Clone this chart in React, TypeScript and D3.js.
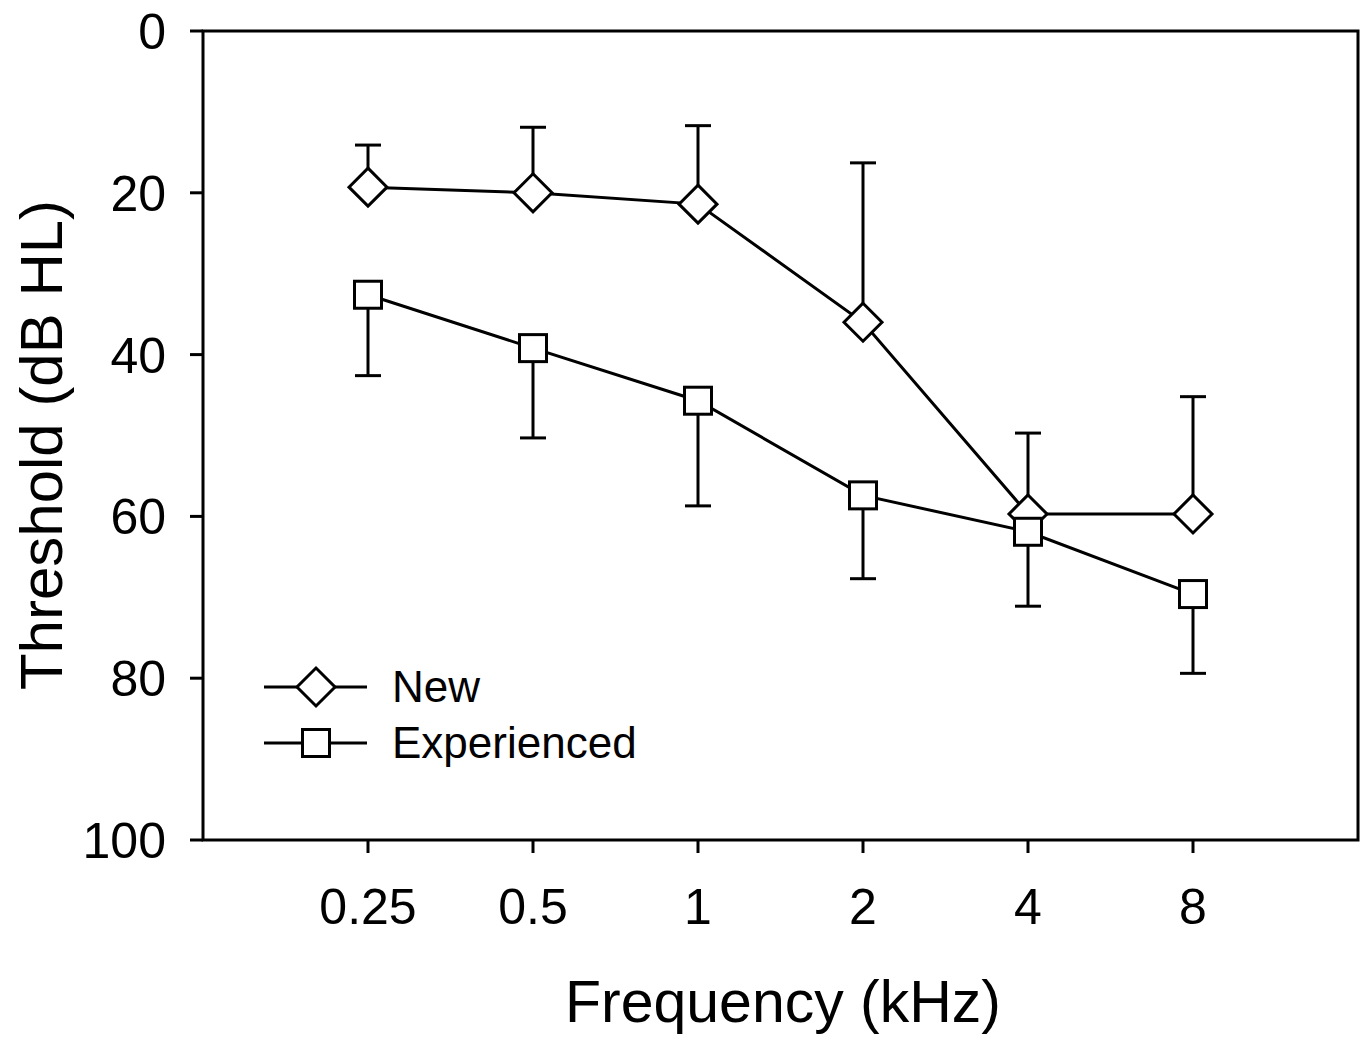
import React from "react";
import * as d3 from "d3";

const frequencies = [0.25, 0.5, 1, 2, 4, 8];
const tickLabels = ["0.25", "0.5", "1", "2", "4", "8"];
const newMean = [19.3, 20.0, 21.4, 36.0, 59.7, 59.7];
const newUpper = [14.1, 11.9, 11.7, 16.3, 49.7, 45.2];
const expMean = [32.6, 39.2, 45.7, 57.4, 61.9, 69.6];
const expLower = [42.6, 50.3, 58.7, 67.7, 71.1, 79.4];
const yTicks = [0, 20, 40, 60, 80, 100];

const W = 1365;
const H = 1040;
const FONT = "'Liberation Sans', Arial, Helvetica, sans-serif";
const SW = 3;

export default function App() {
  const x = d3.scaleLog().base(2).domain([0.125, 16]).range([203, 1358]);
  const y = d3.scaleLinear().domain([0, 100]).range([31, 840]);
  const line = d3
    .line<[number, number]>()
    .x((d) => x(d[0]))
    .y((d) => y(d[1]));

  const newPts: [number, number][] = frequencies.map((f, i) => [f, newMean[i]]);
  const expPts: [number, number][] = frequencies.map((f, i) => [f, expMean[i]]);

  const diamond = (cx: number, cy: number, r = 19) =>
    `M${cx},${cy - r}L${cx + r},${cy}L${cx},${cy + r}L${cx - r},${cy}Z`;
  const sq = 27;
  const cap = 13;

  const [x0, x1] = x.range();
  const [y0, y1] = y.range();

  return (
    <svg
      width={W}
      height={H}
      style={{ position: "absolute", left: 0, top: 0, background: "#fff" }}
      fontFamily={FONT}
    >
      <rect x={0} y={0} width={W} height={H} fill="#fff" />
      {/* frame */}
      <rect x={x0} y={y0} width={x1 - x0} height={y1 - y0} fill="none" stroke="#000" strokeWidth={SW} />
      {/* y ticks */}
      {yTicks.map((t) => (
        <g key={"y" + t}>
          <line x1={x0 - 13} x2={x0} y1={y(t)} y2={y(t)} stroke="#000" strokeWidth={SW} />
          <text x={166} y={y(t) + 18} textAnchor="end" fontSize={50} fill="#000">
            {t}
          </text>
        </g>
      ))}
      {/* x ticks */}
      {frequencies.map((f, i) => (
        <g key={"x" + f}>
          <line x1={x(f)} x2={x(f)} y1={y1} y2={y1 + 13} stroke="#000" strokeWidth={SW} />
          <text x={x(f)} y={924} textAnchor="middle" fontSize={50} fill="#000">
            {tickLabels[i]}
          </text>
        </g>
      ))}
      {/* axis titles */}
      <text x={783} y={1022} textAnchor="middle" fontSize={59} fill="#000">
        Frequency (kHz)
      </text>
      <text transform="translate(62,445) rotate(-90)" textAnchor="middle" fontSize={60} fill="#000">
        Threshold (dB HL)
      </text>

      {/* New series */}
      <path d={line(newPts) || ""} fill="none" stroke="#000" strokeWidth={SW} />
      {frequencies.map((f, i) => (
        <g key={"ne" + f}>
          <line x1={x(f)} x2={x(f)} y1={y(newMean[i])} y2={y(newUpper[i])} stroke="#000" strokeWidth={SW} />
          <line x1={x(f) - cap} x2={x(f) + cap} y1={y(newUpper[i])} y2={y(newUpper[i])} stroke="#000" strokeWidth={SW} />
        </g>
      ))}
      {frequencies.map((f, i) => (
        <path key={"nm" + f} d={diamond(x(f), y(newMean[i]))} fill="#fff" stroke="#000" strokeWidth={SW} />
      ))}

      {/* Experienced series */}
      <path d={line(expPts) || ""} fill="none" stroke="#000" strokeWidth={SW} />
      {frequencies.map((f, i) => (
        <g key={"ee" + f}>
          <line x1={x(f)} x2={x(f)} y1={y(expMean[i])} y2={y(expLower[i])} stroke="#000" strokeWidth={SW} />
          <line x1={x(f) - cap} x2={x(f) + cap} y1={y(expLower[i])} y2={y(expLower[i])} stroke="#000" strokeWidth={SW} />
        </g>
      ))}
      {frequencies.map((f, i) => (
        <rect
          key={"em" + f}
          x={x(f) - sq / 2}
          y={y(expMean[i]) - sq / 2}
          width={sq}
          height={sq}
          fill="#fff"
          stroke="#000"
          strokeWidth={SW}
        />
      ))}

      {/* legend */}
      <line x1={264} x2={367} y1={687} y2={687} stroke="#000" strokeWidth={SW} />
      <path d={diamond(316, 687)} fill="#fff" stroke="#000" strokeWidth={SW} />
      <text x={392} y={702} fontSize={44} fill="#000">New</text>
      <line x1={264} x2={367} y1={743} y2={743} stroke="#000" strokeWidth={SW} />
      <rect x={316 - sq / 2} y={743 - sq / 2} width={sq} height={sq} fill="#fff" stroke="#000" strokeWidth={SW} />
      <text x={392} y={758} fontSize={44} fill="#000">Experienced</text>
    </svg>
  );
}
